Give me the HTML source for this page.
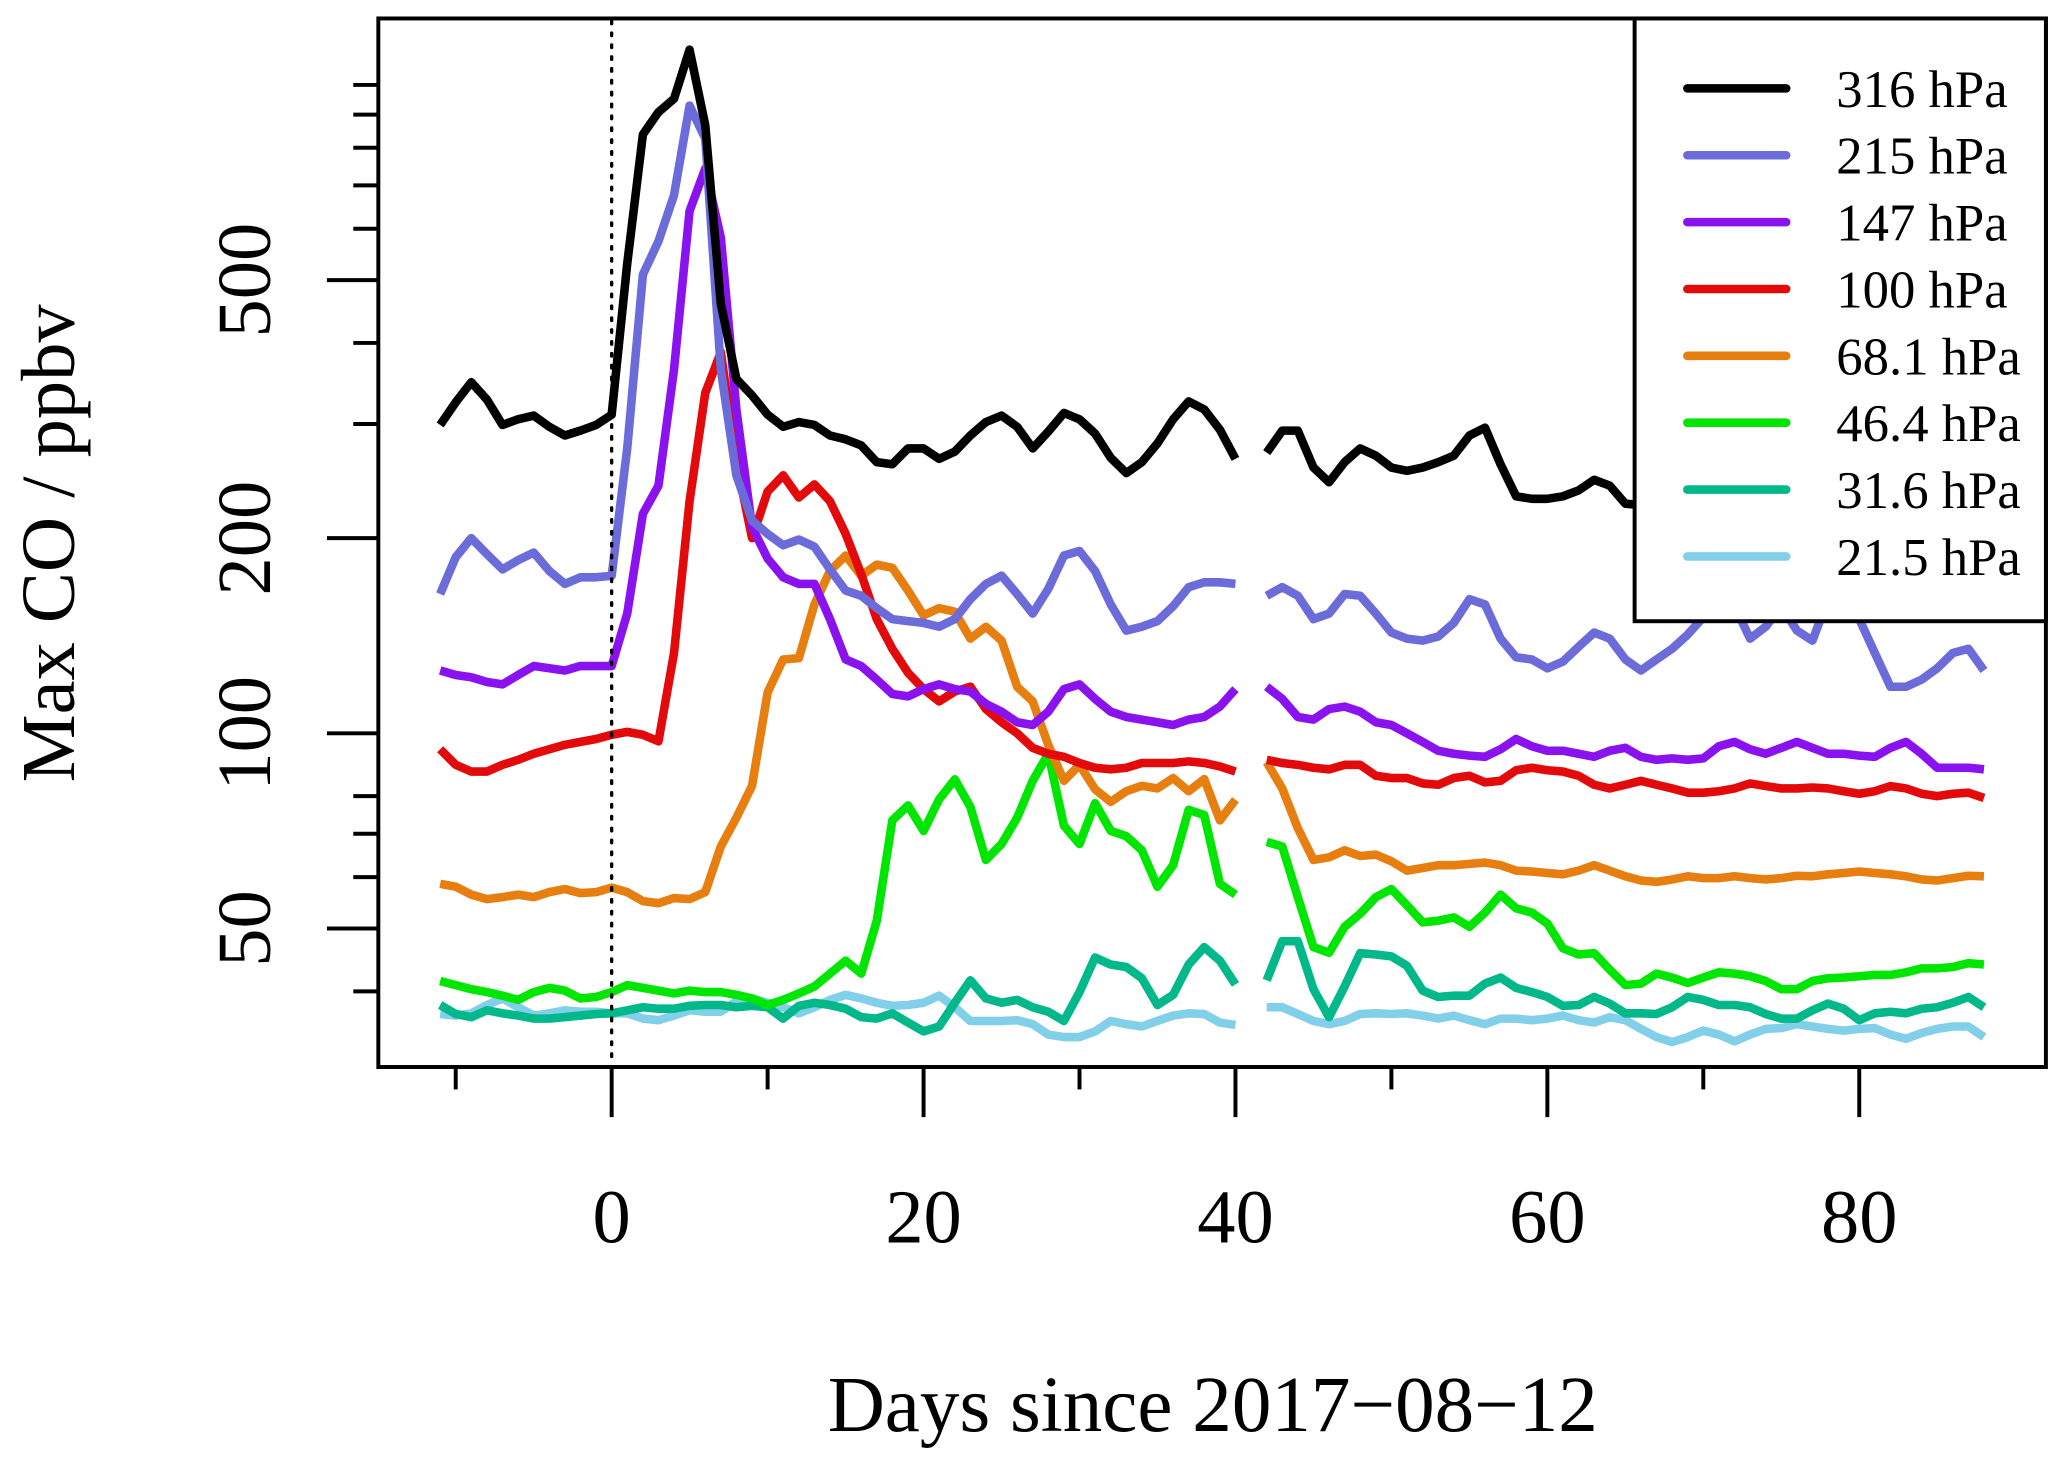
<!DOCTYPE html>
<html><head><meta charset="utf-8">
<style>html,body{margin:0;padding:0;background:#fff}svg{display:block}text{font-family:"Liberation Serif",serif;fill:#000}</style>
</head><body>
<svg id="chart" width="2067" height="1464" viewBox="0 0 1568 1110" preserveAspectRatio="none" xmlns="http://www.w3.org/2000/svg">
<rect x="0" y="0" width="1568" height="1110" fill="#fff"/>
<g id="series"></g>
<line x1="464" y1="16" x2="464" y2="806" stroke="#000" stroke-width="2.5" stroke-dasharray="2,7" stroke-linecap="round"/>
<rect x="287" y="14" width="1265" height="795" fill="none" stroke="#000" stroke-width="3"/>
<g id="axes"></g>
<text x="920" y="1085" font-size="60" text-anchor="middle">Days since 2017−08−12</text>
<text transform="translate(56,412) rotate(-90)" font-size="58" text-anchor="middle">Max CO / ppbv</text>
<g id="legend"></g>
</svg>
<script>
const days1 = [];for(let d=-11;d<=40;d++)days1.push(d);
const days2 = [];for(let d=42;d<=88;d++)days2.push(d);
const xTicks = [-10,0,10,20,30,40,50,60,70,80];
const xTickLabels = [0,20,40,60,80];
const yTicks = [40,50,60,70,80,100,200,300,400,500,600,700,800,900,1000];
const yTickLabels = [50,100,200,500];
const labels = ["316 hPa","215 hPa","147 hPa","100 hPa","68.1 hPa","46.4 hPa","31.6 hPa","21.5 hPa"];
const colors = ["#000000","#6b6bd9","#8a12ee","#e20a0a","#e67e10","#00e600","#00b88a","#82cfea"];

const s316a=[299,324,348,327,299,305,309,297,288,293,299,310,530,839,908,952,1133,867,460,352,332,310,297,302,299,288,284,278,262,260,275,275,265,272,288,302,309,297,275,292,312,305,290,266,252,262,280,305,325,316,294,265];
const s316b=[271,293,293,257,244,262,275,268,257,254,257,262,268,288,296,260,232,230,230,232,237,246,241,226,225,228,232,230,226,224,222,225,228,230,226,222,220,224,228,230,226,222,220,224,226,222,220];
const s215a=[164,187,200,189,179,185,190,178,170,174,174,175,275,510,574,676,929,827,364,250,213,203,195,199,194,179,166,163,156,150,149,148,146,150,161,170,175,164,153,167,188,191,178,158,144,146,149,157,168,171,171,170];
const s215b=[163,168,163,150,153,164,163,153,143,140,139,141,148,161,158,140,131,130,126,129,136,143,140,130,125,130,135,142,151,168,157,140,146,157,144,139,161,168,150,133,118,118,121,126,133,135,125];
const s147a=[125,123,122,120,119,123,127,126,125,127,127,127,153,218,241,364,639,743,582,316,208,186,174,170,170,150,130,127,121,115,114,117,119,117,116,111,108,104,103,108,117,119,113,108,106,105,104,103,105,106,110,117];
const s147b=[118,113,106,105,109,110,108,104,103,100,97,94,93,92.4,92,94.5,98,95.5,94,94,93,92,94,95,92,91,91.5,91,91.5,95.5,97,94.5,93,95,97,95,93,93,92.4,92,95,97,93,88.5,88.5,88.5,88];
const s100a=[94.5,89.4,87.3,87.3,89.4,91,93,94.5,96,97,98,99.5,100.5,99.5,97.2,133,228,335,387,262,200,236,250,231,242,228,203,176,150,135,124,117,112,116,118,109,104,100,95,93,92,90,88.5,88,88.5,90,90,90,90.5,90,88.9,87.3];
const s100b=[91,90,89.4,88.5,88,89.4,89.4,86,85.3,85.3,83.7,83.3,85.3,86,84,84.5,87.7,88.5,87.7,87.3,86,83.3,82.2,83.3,84.5,83.3,82.2,81,81,81.4,82.2,83.7,82.9,82.2,82.2,82.5,82.2,81.4,80.7,81.4,82.9,82.2,80.7,80,80.7,81,79.5];
const s68a=[58.6,58,56.4,55.5,55.9,56.4,55.9,56.9,57.5,56.7,56.9,57.8,56.9,55.1,54.7,55.7,55.5,56.9,66.9,74.1,83,115.6,130,130.6,158,178,188,175,182,180,166,152,156,154,140,146,139,118,112,96,84.5,89.4,82,78.4,81.4,83,82.2,85.3,81.4,85,73.4,79];
const s68b=[90.2,82.2,71.4,63.8,64.4,66,64.7,65,63.5,61.4,62,62.6,62.6,62.9,63.2,62.6,61.4,61.2,60.9,60.6,61.4,62.6,61.4,60.2,59.3,59,59.5,60.2,59.8,59.8,60.2,59.8,59.5,59.8,60.3,60.2,60.6,60.9,61.2,60.9,60.6,60.2,59.5,59.3,59.8,60.3,60.2];
const s46a=[41.5,40.9,40.3,39.9,39.4,38.8,39.9,40.5,40.1,39,39.2,39.9,40.9,40.5,40.1,39.7,40.1,39.9,39.9,39.5,39,38.1,38.8,39.7,40.7,42.6,44.6,42.6,51.4,73.4,77.4,70.7,79.1,84.9,77,63.8,67.5,74.1,84.5,93,72,67.5,78,70.7,69.4,66,58,62.6,76.2,74.8,58.6,56.4];
const s46b=[68,66.9,55.9,46.8,45.9,50.3,52.7,55.9,57.5,54.3,51.1,51.4,52,50.3,52.9,56.4,53.7,52.9,50.9,46.6,45.6,45.8,43.2,40.9,41.1,42.6,42,41.2,42,42.8,42.6,42.2,41.5,40.3,40.3,41.5,41.9,42,42.2,42.4,42.4,42.8,43.4,43.4,43.6,44.2,44];
const s31a=[38.1,36.9,36.5,37.4,37,36.7,36.3,36.3,36.5,36.7,36.9,37,37.4,37.8,37.6,37.6,38,38.1,38.1,37.8,38,37.8,36.3,38,38.4,38.1,37.6,36.5,36.3,37,35.8,34.7,35.3,38.4,41.6,39,38.4,38.8,37.8,37.2,36,39.9,45.1,44,43.6,41.9,38.1,39.5,44,46.8,44.6,41];
const s31b=[41.6,47.8,47.8,40.3,36.5,40.7,45.8,45.6,45.3,43.8,40.1,39.2,39.4,39.4,41.1,42,40.5,39.9,39.2,38,38.1,39.2,38.3,37,37,36.9,37.8,39.2,38.8,38.1,38.1,37.8,36.9,36.3,36.3,37.4,38.3,37.6,36.1,37,37.2,37,37.6,37.8,38.4,39.2,37.8];
const s21a=[36.9,36.7,37,38.1,39,37.8,36.7,37,37.4,37.2,37.2,37,37,36.3,36.1,36.7,37.4,37.2,37.2,38.6,39,38.4,37.8,37,37.8,38.8,39.5,39,38.4,38,38.1,38.4,39.4,37.8,36,36,36,36.1,35.6,34.3,34,34,34.7,36,35.6,35.3,36,36.7,37,36.9,35.8,35.5];
const s21b=[37.8,37.8,36.9,36,35.6,36,36.9,37,36.9,37,36.7,36.3,36.7,36.1,35.6,36.3,36.3,36.1,36.3,36.7,36.1,35.8,36.5,36.1,35,34,33.4,34,34.8,34.3,33.5,34.3,35,35.1,35.6,35.3,35,34.8,35,35.1,34.3,33.8,34.5,35,35.3,35.3,34];

const seriesA=[s316a,s215a,s147a,s100a,s68a,s46a,s31a,s21a];
const seriesB=[s316b,s215b,s147b,s100b,s68b,s46b,s31b,s21b];

const NS="http://www.w3.org/2000/svg";
function xS(d){return 464+d*11.83;}
function yS(v){return 556-Math.log10(v/100)*491.6;}
function mk(tag,attrs,parent){const e=document.createElementNS(NS,tag);for(const k in attrs)e.setAttribute(k,attrs[k]);parent.appendChild(e);return e;}

const gS=document.getElementById('series');
for(let i=7;i>=0;i--){
  [[days1,seriesA[i]],[days2,seriesB[i]]].forEach(([ds,vs],j)=>{
    const pts=ds.map((d,k)=>xS(d).toFixed(1)+','+yS(vs[k]).toFixed(1)).join(' ');
    const p=mk('polyline',{points:pts,fill:'none',stroke:colors[i],'stroke-width':6.5,'stroke-linejoin':'round','stroke-linecap':'butt'},gS);
    
    
  });
}

const gA=document.getElementById('axes');
xTicks.forEach(t=>{
  const major=xTickLabels.indexOf(t)>=0;
  const l=mk('line',{x1:xS(t),x2:xS(t),y1:809,y2:major?847:826,stroke:'#000','stroke-width':3},gA);
  
  
  if(major){
    const tx=mk('text',{x:xS(t),y:942,'font-size':58,'text-anchor':'middle'},gA);
    tx.textContent=t;
    
    
  }
});
yTicks.forEach(t=>{
  const major=yTickLabels.indexOf(t)>=0;
  const l=mk('line',{x1:287,x2:major?248:268,y1:yS(t),y2:yS(t),stroke:'#000','stroke-width':3},gA);
  
  
  if(major){
    const tx=mk('text',{transform:'translate(205,'+yS(t).toFixed(1)+') rotate(-90)','font-size':58,'text-anchor':'middle'},gA);
    tx.textContent=t;
    
    
  }
});

const gL=document.getElementById('legend');
const box=mk('rect',{x:1240,y:14,width:312,height:457,fill:'#fff',stroke:'#000','stroke-width':3},gL);


labels.forEach((lab,i)=>{
  const y=67+i*50.7;
  const l=mk('line',{x1:1280,x2:1355,y1:y,y2:y,stroke:colors[i],'stroke-width':6.5,'stroke-linecap':'round'},gL);
  
  
  const tx=mk('text',{x:1393,y:y+14,'font-size':40},gL);
  tx.textContent=lab;
  
  
});
</script>
</body></html>
